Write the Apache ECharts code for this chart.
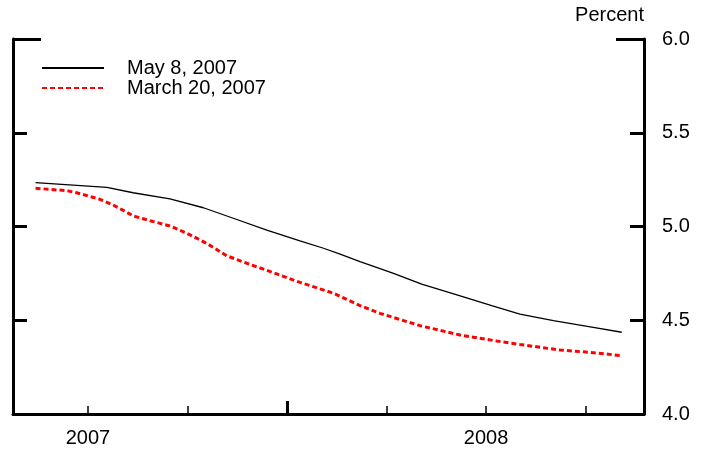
<!DOCTYPE html>
<html lang="en">

<head>
    <meta charset="UTF-8">
    <title>Expected policy path</title>
    <script src="https://cdn.jsdelivr.net/npm/echarts@6/dist/echarts.min.js"></script>
    <style>
        html, body {
            margin: 0;
            padding: 0;
            background: #fff;
        }

        #chart {
            width: 709px;
            height: 451px;
        }
    </style>
</head>

<body>
    <div id="chart"></div>
    <script>
        // x in months since Jan 1, 2007
        var monthsMay = [4.42, 6.57, 7.36, 8.47, 9.48, 10.38, 11.39, 12.39, 13.10, 13.60, 14.20, 15.21, 16.06, 17.12, 18.17, 19.02, 20.03, 21.23, 22.09];
        var rateMay = [5.234, 5.209, 5.180, 5.147, 5.100, 5.044, 4.981, 4.923, 4.884, 4.853, 4.813, 4.750, 4.693, 4.635, 4.578, 4.533, 4.498, 4.462, 4.436];

        var monthsMarch = [4.42, 5.36, 5.66, 6.36, 6.76, 7.37, 7.87, 8.47, 8.98, 9.58, 10.18, 10.79, 11.69, 12.39, 13.40, 14.20, 14.80, 16.01, 17.22, 18.32, 19.02, 20.23, 21.23, 22.09];
        var rateMarch = [5.204, 5.191, 5.180, 5.145, 5.115, 5.056, 5.031, 5.003, 4.964, 4.910, 4.844, 4.804, 4.747, 4.702, 4.644, 4.578, 4.537, 4.471, 4.421, 4.389, 4.371, 4.341, 4.327, 4.311];

        var yearLabels = ['2007', '2008'];
        var yearLabelPos = [6, 18];       // mid-year
        var quarterTicks = [6, 9, 15, 18, 21];
        var yearTicks = [12];

        var xMin = 3.74, xMax = 22.76;
        var font = 'Liberation Sans, Arial, sans-serif';

        function pairs(xs, ys) {
            return xs.map(function (x, i) { return [x, ys[i]]; });
        }

        var myChart = echarts.init(document.getElementById('chart'), null, { renderer: 'canvas' });
        myChart.setOption({
            animation: false,
            backgroundColor: '#fff',
            textStyle: { fontFamily: font },
            grid: {
                left: 13,
                right: 65,
                top: 39,
                bottom: 37,
                containLabel: false,
                outerBoundsMode: 'none'
            },
            legend: {
                orient: 'vertical',
                left: 41,
                top: 58,
                padding: 0,
                itemWidth: 62,
                itemHeight: 10,
                itemGap: 0,
                itemStyle: { opacity: 0 },
                textStyle: { fontSize: 20, color: '#000', fontFamily: font, padding: [0, 0, 0, 18] },
                data: ['May 8, 2007', 'March 20, 2007']
            },
            xAxis: [
                {
                    type: 'value',
                    position: 'bottom',
                    min: xMin,
                    max: xMax,
                    splitLine: { show: false },
                    axisLine: { show: true, lineStyle: { color: '#000', width: 3 } },
                    axisTick: {
                        show: true,
                        inside: true,
                        length: 8,
                        customValues: quarterTicks,
                        lineStyle: { color: '#000', width: 1.5 }
                    },
                    axisLabel: {
                        show: true,
                        margin: 14,
                        fontSize: 20,
                        color: '#000',
                        customValues: yearLabelPos,
                        formatter: function (v) {
                            var i = yearLabelPos.indexOf(v);
                            return i >= 0 ? yearLabels[i] : '';
                        }
                    }
                },
                {
                    type: 'value',
                    position: 'bottom',
                    min: xMin,
                    max: xMax,
                    splitLine: { show: false },
                    axisLine: { show: false },
                    axisTick: {
                        show: true,
                        inside: true,
                        length: 13,
                        customValues: yearTicks,
                        lineStyle: { color: '#000', width: 3 }
                    },
                    axisLabel: { show: false }
                }
            ],
            yAxis: [
                {
                    type: 'value',
                    position: 'right',
                    min: 4,
                    max: 6,
                    interval: 0.5,
                    name: 'Percent',
                    nameLocation: 'end',
                    nameGap: 14,
                    nameTextStyle: { fontSize: 20, color: '#000', align: 'right', fontFamily: font },
                    splitLine: { show: false },
                    axisLine: { show: true, lineStyle: { color: '#000', width: 3 } },
                    axisTick: { show: true, inside: true, length: 14, lineStyle: { color: '#000', width: 3 } },
                    axisLabel: {
                        margin: 18,
                        fontSize: 20,
                        color: '#000',
                        formatter: function (v) { return v.toFixed(1); }
                    }
                },
                {
                    type: 'value',
                    position: 'left',
                    min: 4,
                    max: 6,
                    interval: 0.5,
                    splitLine: { show: false },
                    axisLine: { show: true, lineStyle: { color: '#000', width: 3 } },
                    axisTick: { show: true, inside: true, length: 14, lineStyle: { color: '#000', width: 3 } },
                    axisLabel: { show: false }
                },
                {
                    type: 'value',
                    position: 'right',
                    min: 4,
                    max: 6,
                    splitLine: { show: false },
                    axisLine: { show: false },
                    axisTick: { show: true, inside: true, length: 28, customValues: [6], lineStyle: { color: '#000', width: 3 } },
                    axisLabel: { show: false }
                },
                {
                    type: 'value',
                    position: 'left',
                    min: 4,
                    max: 6,
                    splitLine: { show: false },
                    axisLine: { show: false },
                    axisTick: { show: true, inside: true, length: 28, customValues: [6], lineStyle: { color: '#000', width: 3 } },
                    axisLabel: { show: false }
                }
            ],
            series: [
                {
                    name: 'May 8, 2007',
                    type: 'line',
                    xAxisIndex: 0,
                    yAxisIndex: 0,
                    symbol: 'none',
                    data: pairs(monthsMay, rateMay),
                    lineStyle: { color: '#000', width: 1.3 },
                    itemStyle: { color: '#000' }
                },
                {
                    name: 'March 20, 2007',
                    type: 'line',
                    xAxisIndex: 0,
                    yAxisIndex: 0,
                    symbol: 'none',
                    data: pairs(monthsMarch, rateMarch),
                    lineStyle: { color: '#ff0000', width: 3, type: [5, 3] },
                    itemStyle: { color: '#ff0000' }
                }
            ]
        });
    </script>
</body>

</html>
